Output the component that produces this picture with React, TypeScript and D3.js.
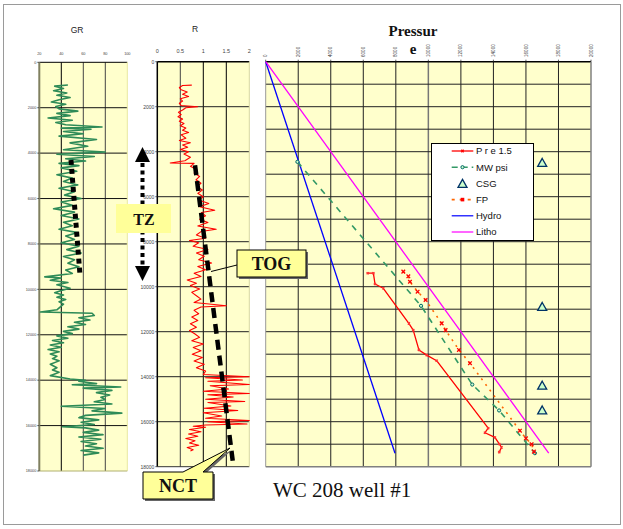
import React from "react";
import * as d3 from "d3";

// ---------- data ----------
const depthTicks = [0, 2000, 4000, 6000, 8000, 10000, 12000, 14000, 16000, 18000];
const grTicks = [20, 40, 60, 80, 100];
const rTicks = [0, 0.5, 1, 1.5, 2];
const pTicks = [0, 2000, 4000, 6000, 8000, 10000, 12000, 14000, 16000, 18000, 20000];

const grDepth = [1000, 1050, 1150, 1250, 1350, 1450, 1550, 1650, 1750, 1850, 1950, 2050, 2150, 2250, 2350, 2450, 2550, 2650, 2750, 2850, 2900, 2950, 3050, 3150, 3250, 3400, 3550, 3700, 3850, 3950, 4050, 4150, 4250, 4350, 4450, 4550, 4650, 4800, 4950, 5100, 5250, 5400, 5550, 5700, 5850, 6000, 6150, 6300, 6450, 6600, 6750, 6900, 7050, 7200, 7350, 7500, 7650, 7800, 7950, 8100, 8250, 8400, 8550, 8700, 8850, 9000, 9150, 9300, 9450, 9500, 9600, 9700, 9800, 9950, 10050, 10150, 10250, 10350, 10450, 10550, 10650, 10900, 11000, 11050, 11150, 11250, 11350, 11450, 11550, 11650, 11750, 11850, 11950, 12050, 12150, 12250, 12350, 12450, 12550, 12650, 12750, 12850, 12950, 13050, 13150, 13300, 13450, 13550, 13650, 13800, 13950, 14000, 14050, 14150, 14200, 14300, 14350, 14450, 14550, 14650, 14750, 14850, 14950, 15050, 15150, 15250, 15350, 15450, 15550, 15650, 15750, 15850, 15950, 16050, 16100, 16200, 16300, 16400, 16500, 16600, 16700, 16800, 16900, 17000, 17100, 17200, 17300];
const grValue = [46, 34, 42, 33, 45, 36, 48, 38, 31, 44, 35, 38, 55, 36, 48, 28, 50, 35, 44, 77, 40, 67, 42, 60, 38, 72, 48, 64, 42, 80, 36, 70, 44, 62, 38, 56, 40, 54, 36, 50, 42, 55, 38, 52, 43, 58, 40, 50, 33, 52, 40, 56, 42, 50, 38, 55, 44, 52, 40, 56, 45, 58, 42, 52, 46, 56, 44, 50, 25, 40, 30, 46, 36, 48, 40, 34, 42, 36, 44, 38, 42, 36, 21, 68, 70, 56, 66, 52, 62, 46, 56, 42, 50, 36, 46, 32, 42, 30, 40, 28, 38, 30, 36, 32, 38, 30, 36, 32, 38, 30, 48, 62, 56, 72, 50, 94, 60, 86, 72, 84, 76, 80, 70, 86, 40, 80, 68, 95, 62, 56, 74, 58, 70, 41, 62, 74, 60, 78, 56, 76, 58, 72, 62, 78, 58, 74, 60];

const rDepth = [1040, 1060, 1150, 1250, 1350, 1450, 1550, 1650, 1750, 1850, 1950, 2000, 2050, 2150, 2250, 2350, 2450, 2550, 2650, 2750, 2850, 2950, 3050, 3150, 3250, 3400, 3500, 3600, 3700, 3800, 3900, 4000, 4100, 4250, 4400, 4500, 4520, 4650, 4800, 4950, 5100, 5250, 5400, 5550, 5700, 5850, 6000, 6150, 6300, 6450, 6600, 6700, 6850, 7000, 7150, 7300, 7450, 7550, 7700, 7850, 7950, 8050, 8200, 8350, 8500, 8650, 8800, 8950, 9100, 9250, 9400, 9550, 9700, 9850, 9950, 10100, 10250, 10400, 10550, 10700, 10850, 10900, 11050, 11200, 11350, 11500, 11650, 11800, 11950, 12100, 12250, 12400, 12550, 12700, 12850, 13000, 13150, 13300, 13450, 13600, 13750, 13900, 14000, 14050, 14150, 14200, 14350, 14400, 14550, 14650, 14750, 14800, 14900, 15000, 15100, 15150, 15300, 15400, 15500, 15600, 15750, 15850, 15950, 16000, 16100, 16150, 16200, 16250, 16350, 16450, 16550, 16650, 16750, 16850, 16950, 17050, 17150, 17250, 17300];
const rValue = [0.75, 0.55, 0.48, 0.52, 0.65, 0.55, 0.68, 0.5, 0.55, 0.48, 0.52, 0.88, 0.62, 0.55, 0.46, 0.52, 0.45, 0.55, 0.48, 0.58, 0.5, 0.62, 0.55, 0.68, 0.52, 0.62, 0.48, 0.72, 0.55, 0.66, 0.5, 0.68, 0.58, 0.72, 0.6, 0.28, 0.8, 0.72, 0.86, 0.8, 0.92, 0.84, 0.95, 0.86, 0.98, 0.88, 1.0, 0.9, 1.12, 0.92, 1.25, 0.96, 1.05, 0.92, 1.1, 0.88, 1.28, 0.95, 0.85, 1.05, 0.7, 0.9, 0.78, 1.1, 0.85, 1.02, 0.9, 1.18, 0.88, 1.05, 0.8, 0.95, 0.65, 0.85, 0.72, 0.92, 0.75, 0.85, 0.95, 0.8, 1.5, 0.95, 0.8, 0.9, 0.75, 0.88, 0.72, 0.85, 0.7, 0.82, 0.92, 0.75, 1.0, 0.78, 0.95, 0.76, 0.98, 0.8, 1.02, 0.85, 1.05, 1.0, 2.0, 1.05, 1.85, 1.1, 2.0, 1.15, 1.55, 1.0, 2.0, 1.1, 1.65, 1.05, 1.9, 1.1, 1.6, 1.02, 1.75, 1.0, 1.4, 1.05, 2.0, 1.1, 1.95, 1.05, 0.78, 1.05, 0.7, 0.95, 0.68, 0.88, 0.62, 0.82, 0.7, 0.9, 0.65, 0.78, 0.72];

// trend lines (NCT)
const grTrendValue = [48.8, 57];
const grTrendDepth = [4300, 9370];
const rTrendValue = [0.82, 1.64];
const rTrendDepth = [4600, 17750];

// pressure chart series
const hydroPsi = [0, 7950];
const hydroDepth = [0, 17400];
const lithoPsi = [0, 17400];
const lithoDepth = [0, 17400];
const mwPsi = [1950, 9550, 12700, 14350, 16550];
const mwDepth = [4450, 10850, 14350, 15500, 17400];
const fpPsi = [8460, 8770, 8870, 9340, 9830, 10820, 11060, 11880, 12560, 15630, 16000, 16350, 16490];
const fpDepth = [9330, 9540, 9780, 10220, 10590, 11630, 11930, 12810, 13400, 16400, 16740, 17000, 17330];
const prePsi = [6270, 6620, 6720, 7230, 8800, 9070, 9420, 9900, 10510, 13680, 13480, 14090, 14360, 14500, 14360];
const preDepth = [9400, 9400, 9880, 10070, 11630, 11930, 12810, 13040, 13290, 16290, 16490, 16700, 16990, 17140, 17350];
const csgPsi = [17000, 17000, 17000, 17000];
const csgDepth = [4500, 10900, 14400, 15500];
const legendLabels = ["P r e 1.5", "MW psi", "CSG", "FP", "Hydro", "Litho"];

// ---------- helpers ----------
const zip = (a: number[], b: number[]) => a.map((v, i) => [v, b[i]] as [number, number]);

const BG = "#FFFFCC";
const SANS = "Arial, 'Liberation Sans', sans-serif";
const SERIF = "'Times New Roman', 'Liberation Serif', serif";

export default function App() {
  // GR panel
  const gx = d3.scaleLinear().domain([20, 100]).range([39.3, 127.3]);
  const gy = d3.scaleLinear().domain([0, 18000]).range([62.3, 471]);
  // R panel
  const rx = d3.scaleLinear().domain([0, 2]).range([157.3, 249.3]);
  const ry = d3.scaleLinear().domain([0, 18000]).range([61.7, 466.7]);
  // Pressure panel
  const px = d3.scaleLinear().domain([0, 20000]).range([265.7, 591]);
  const py = d3.scaleLinear().domain([0, 18000]).range([61.7, 466.7]);

  const grLine = d3.line<[number, number]>().x(d => gx(d[1])).y(d => gy(d[0]));
  const rLine = d3.line<[number, number]>().x(d => rx(d[1])).y(d => ry(d[0]));
  const pLine = d3.line<[number, number]>().x(d => px(d[0])).y(d => py(d[1]));

  const grPts = zip(grDepth, grValue);
  const rPts = zip(rDepth, rValue);
  const pDepthGrid = d3.range(0, 18001, 1000);

  const legendColors = ["#FF0000", "#339966", "#003366", "#FF6600", "#0000FF", "#FF00FF"];
  const lgX = 431.5, lgY = 143.5, lgW = 102, lgH = 97;

  const xMark = (x: number, y: number, s: number, color: string, key: string) => (
    <path key={key} d={`M${x - s},${y - s}L${x + s},${y + s}M${x - s},${y + s}L${x + s},${y - s}`} stroke={color} strokeWidth={1.3} fill="none" />
  );
  const tri = (x: number, y: number, key: string) => (
    <path key={key} d={`M${x},${y - 4.5}L${x + 4.5},${y + 3.5}L${x - 4.5},${y + 3.5}Z`} fill="#CCFFCC" stroke="#003366" strokeWidth={1.3} />
  );

  return (
    <svg width={623} height={529} style={{ position: "absolute", left: 0, top: 0, background: "#fff" }}>
      <rect x={3.5} y={4.5} width={617} height={520} fill="#fff" stroke="#9a9a9a" strokeWidth={1} />

      {/* ===== GR panel ===== */}
      <text x={77} y={32.5} fontFamily={SANS} fontSize={8.5} textAnchor="middle" fill="#222">GR</text>
      <rect x={gx(20)} y={gy(0)} width={gx(100) - gx(20)} height={gy(18000) - gy(0)} fill={BG} />
      {grTicks.slice(1, -1).map(t => (
        <line key={"gv" + t} x1={gx(t)} x2={gx(t)} y1={gy(0)} y2={gy(18000)} stroke={t === 40 ? "#000" : "#444"} strokeWidth={1} />
      ))}
      {depthTicks.slice(1, -1).map(t => (
        <line key={"gh" + t} x1={gx(20)} x2={gx(100)} y1={gy(t)} y2={gy(t)} stroke="#111" strokeWidth={1} />
      ))}
      <line x1={gx(20)} x2={gx(100)} y1={gy(0)} y2={gy(0)} stroke="#000" strokeWidth={1} />
      <line x1={gx(100)} x2={gx(100)} y1={gy(0)} y2={gy(18000)} stroke="#E8E8A0" strokeWidth={1} />
      <line x1={gx(20)} x2={gx(100)} y1={gy(18000)} y2={gy(18000)} stroke="#B0B070" strokeWidth={1} />
      <line x1={gx(20)} x2={gx(20)} y1={gy(0)} y2={gy(18000)} stroke="#808060" strokeWidth={2} />
      {grTicks.map(t => (
        <text key={"gt" + t} x={gx(t)} y={54.5} fontFamily={SANS} fontSize={3.8} textAnchor="middle" fill="#444">{t}</text>
      ))}
      {depthTicks.map(t => (
        <g key={"gd" + t}>
          <line x1={gx(20) - 2} x2={gx(20)} y1={gy(t)} y2={gy(t)} stroke="#333" strokeWidth={0.8} />
          <text x={gx(20) - 3} y={gy(t) + 1.3} fontFamily={SANS} fontSize={3.8} textAnchor="end" fill="#444">{t}</text>
        </g>
      ))}
      <path d={grLine(grPts) || ""} fill="none" stroke="#2E8B57" strokeWidth={1.6} strokeLinejoin="round" />
      <path d={grLine(zip(grTrendDepth, grTrendValue)) || ""} fill="none" stroke="#000" strokeWidth={5} strokeDasharray="5 4" />

      {/* ===== R panel ===== */}
      <text x={195} y={32} fontFamily={SANS} fontSize={8.5} textAnchor="middle" fill="#222">R</text>
      <rect x={rx(0)} y={ry(0)} width={rx(2) - rx(0)} height={ry(18000) - ry(0)} fill={BG} />
      {rTicks.slice(1, -1).map(t => (
        <line key={"rv" + t} x1={rx(t)} x2={rx(t)} y1={ry(0)} y2={ry(18000)} stroke={t === 0.5 ? "#444" : "#000"} strokeWidth={1} />
      ))}
      {depthTicks.slice(1, -1).map(t => (
        <line key={"rh" + t} x1={rx(0)} x2={rx(2)} y1={ry(t)} y2={ry(t)} stroke="#222" strokeWidth={1} />
      ))}
      <line x1={rx(0)} x2={rx(2)} y1={ry(0)} y2={ry(0)} stroke="#000" strokeWidth={1.5} />
      <line x1={rx(0)} x2={rx(0)} y1={ry(0)} y2={ry(18000)} stroke="#000" strokeWidth={1.5} />
      <line x1={rx(0)} x2={rx(2)} y1={ry(18000)} y2={ry(18000)} stroke="#333" strokeWidth={1} />
      <line x1={rx(2)} x2={rx(2)} y1={ry(0)} y2={ry(18000)} stroke="#D8D8A0" strokeWidth={1} />
      {rTicks.map(t => (
        <text key={"rt" + t} x={rx(t)} y={52.5} fontFamily={SANS} fontSize={5.5} textAnchor="middle" fill="#444">{t}</text>
      ))}
      {depthTicks.map(t => (
        <g key={"rd" + t}>
          <line x1={rx(0) - 2} x2={rx(0)} y1={ry(t)} y2={ry(t)} stroke="#333" strokeWidth={0.8} />
          <text x={rx(0) - 3} y={ry(t) + 1.8} fontFamily={SANS} fontSize={5} textAnchor="end" fill="#444">{t}</text>
        </g>
      ))}
      <path d={rLine(rPts) || ""} fill="none" stroke="#FF0000" strokeWidth={1.1} strokeLinejoin="round" />
      <path d={rLine(zip(rTrendDepth, rTrendValue)) || ""} fill="none" stroke="#000" strokeWidth={4.5} strokeDasharray="10 6" />

      {/* TZ arrow */}
      <line x1={142.5} x2={142.5} y1={163} y2={266} stroke="#000" strokeWidth={4} strokeDasharray="4 3.5" />
      <path d="M142.5,147L150,162L135,162Z" fill="#000" />
      <path d="M142.5,281L150,266L135,266Z" fill="#000" />

      {/* TZ label */}
      <rect x={116} y={204} width={55} height={29} fill="#FFFF99" />
      <text x={144} y={225} fontFamily={SERIF} fontWeight="bold" fontSize={16} textAnchor="middle" fill="#111">TZ</text>

      {/* ===== Pressure panel ===== */}
      <text x={413} y={36} fontFamily={SERIF} fontWeight="bold" fontSize={15} textAnchor="middle" fill="#111">Pressur</text>
      <text x={413} y={53.5} fontFamily={SERIF} fontWeight="bold" fontSize={15} textAnchor="middle" fill="#111">e</text>
      <rect x={px(0)} y={py(0)} width={px(20000) - px(0)} height={py(18000) - py(0)} fill={BG} />
      {pTicks.slice(1, -1).map(t => (
        <line key={"pv" + t} x1={px(t)} x2={px(t)} y1={py(0)} y2={py(18000)} stroke={t === 10000 ? "#777" : "#222"} strokeWidth={t === 10000 ? 1.5 : 1} />
      ))}
      {pDepthGrid.slice(1, -1).map(t => (
        <line key={"ph" + t} x1={px(0)} x2={px(20000)} y1={py(t)} y2={py(t)} stroke="#222" strokeWidth={1} />
      ))}
      <line x1={px(0)} x2={px(20000)} y1={py(0)} y2={py(0)} stroke="#000" strokeWidth={1.5} />
      <line x1={px(0)} x2={px(0)} y1={py(0)} y2={py(18000)} stroke="#999" strokeWidth={1} />
      <line x1={px(20000)} x2={px(20000)} y1={py(0)} y2={py(18000)} stroke="#808080" strokeWidth={1.5} />
      <line x1={px(0)} x2={px(20000)} y1={py(18000)} y2={py(18000)} stroke="#808080" strokeWidth={1.5} />
      {pTicks.map(t => (
        <g key={"pt" + t}>
          <line x1={px(t)} x2={px(t)} y1={py(0) - 2} y2={py(0)} stroke="#333" strokeWidth={0.8} />
          <text transform={`translate(${px(t) + 1.6},57) rotate(-90)`} fontFamily={SANS} fontSize={4.6} textAnchor="start" fill="#444">{t}</text>
        </g>
      ))}

      {/* series */}
      <path d={pLine(zip(hydroPsi, hydroDepth)) || ""} fill="none" stroke="#0000FF" strokeWidth={1.3} />
      <path d={pLine(zip(lithoPsi, lithoDepth)) || ""} fill="none" stroke="#FF00FF" strokeWidth={1.3} />
      <path d={pLine(zip(mwPsi, mwDepth)) || ""} fill="none" stroke="#339966" strokeWidth={1.6} strokeDasharray="6 6" />
      {zip(mwPsi, mwDepth).map((d, i) => (
        <circle key={"mw" + i} cx={px(d[0])} cy={py(d[1])} r={1.6} fill="#CCFFCC" stroke="#006666" strokeWidth={1} />
      ))}
      <path d={pLine(zip(fpPsi, fpDepth)) || ""} fill="none" stroke="#FF6600" strokeWidth={1.6} strokeDasharray="2 5" />
      {zip(fpPsi, fpDepth).map((d, i) => xMark(px(d[0]), py(d[1]), 1.8, "#FF0000", "fp" + i))}
      <path d={pLine(zip(prePsi, preDepth)) || ""} fill="none" stroke="#FF0000" strokeWidth={1.3} strokeLinejoin="round" />
      {zip(prePsi, preDepth).map((d, i) => xMark(px(d[0]), py(d[1]), 1.1, "#FF3333", "pr" + i))}
      {zip(csgPsi, csgDepth).map((d, i) => tri(px(d[0]), py(d[1]), "cs" + i))}

      {/* legend */}
      <rect x={lgX} y={lgY} width={lgW} height={lgH} fill="#fff" stroke="#000" strokeWidth={1} />
      {legendLabels.map((lab, i) => {
        const y = 151 + i * 16.2;
        const x1 = 451.7, x2 = 473.3, xm = (x1 + x2) / 2;
        const c = legendColors[i];
        return (
          <g key={"lg" + i}>
            {i === 0 && <line x1={x1} x2={x2} y1={y} y2={y} stroke={c} strokeWidth={1.3} />}
            {i === 0 && xMark(xm, y, 1.2, c, "lgm0")}
            {i === 1 && <line x1={x1} x2={x2} y1={y} y2={y} stroke={c} strokeWidth={1.6} strokeDasharray="6 4" />}
            {i === 1 && <circle cx={xm} cy={y} r={1.6} fill="#CCFFCC" stroke="#006666" strokeWidth={1} />}
            {i === 2 && tri(xm, y + 0.5, "lgt")}
            {i === 3 && <line x1={x1} x2={x2} y1={y} y2={y} stroke={c} strokeWidth={1.6} strokeDasharray="3 5" />}
            {i === 3 && <rect x={xm - 1.8} y={y - 1.8} width={3.6} height={3.6} fill="#FF0000" />}
            {i >= 4 && <line x1={x1} x2={x2} y1={y} y2={y} stroke={c} strokeWidth={1.2} />}
            <text x={476} y={y + 3.3} fontFamily={SANS} fontSize={9.5} fill="#111">{lab}</text>
          </g>
        );
      })}

      {/* TOG callout */}
      <line x1={237} y1={265} x2={211} y2={271.5} stroke="#000" strokeWidth={1} />
      <rect x={239} y={252} width={69} height={27} fill="#666" />
      <rect x={237} y={250} width={69} height={27} fill="#FFFF99" stroke="#000" strokeWidth={1} />
      <text x={271.5} y={270} fontFamily={SERIF} fontWeight="bold" fontSize={18} textAnchor="middle" fill="#111">TOG</text>

      {/* NCT callout */}
      <path d="M145,474 L185,474 L232,450 L205,474 L215,474 L215,501 L145,501 Z" fill="#666" />
      <path d="M143,472 L183,472 L230,448 L203,472 L213,472 L213,499 L143,499 Z" fill="#FFFF99" stroke="#000" strokeWidth={1} />
      <text x={178} y={492} fontFamily={SERIF} fontWeight="bold" fontSize={18} textAnchor="middle" fill="#111">NCT</text>

      {/* caption */}
      <text x={273} y={497} fontFamily={SERIF} fontSize={21} fill="#111">WC 208 well #1</text>
    </svg>
  );
}
